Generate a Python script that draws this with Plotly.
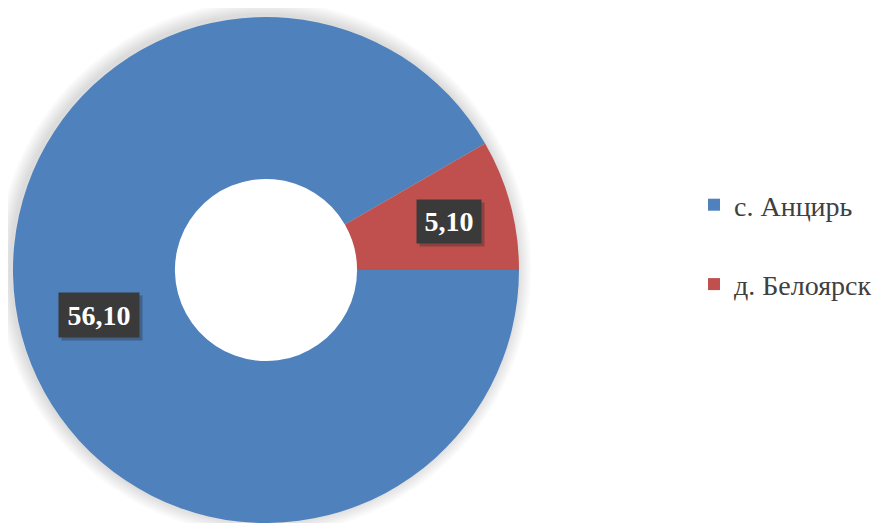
import math
import plotly.graph_objects as go

labels = ["с. Анцирь", "д. Белоярск"]
values = [56.10, 5.10]
value_text = ["56,10", "5,10"]
colors = ["#4F81BD", "#C0504D"]

SERIF = "Liberation Serif, Times New Roman, DejaVu Serif, serif"

# page has an 8px body margin; figure coordinates are page - 8
W, H = 875, 515
cx_px, cy_px, r_px = 258, 262, 253
hole = 0.36
label_r = [0.684, 0.747]
box_w = [72, 56]
box_h = [36, 35]

fig = go.Figure()
fig.add_trace(go.Pie(
    labels=labels, values=values, sort=False,
    direction="clockwise", rotation=90, hole=hole,
    marker=dict(colors=colors, line=dict(width=0)),
    textinfo="none", hoverinfo="label+value", showlegend=False,
    domain=dict(x=[(cx_px - r_px) / W, (cx_px + r_px) / W],
                y=[max(0, (H - cy_px - r_px) / H), (H - cy_px + r_px) / H]),
))

# legend entries
for i, (lab, col) in enumerate(zip(labels, colors)):
    fig.add_trace(go.Scatter(
        x=[None], y=[None], mode="markers", name=lab,
        legendgroup=f"g{i}",
        marker=dict(symbol="square", size=12, color=col),
    ))


def circle(cx, cy, rr, fill):
    return dict(
        type="circle", xref="paper", yref="paper", layer="below",
        x0=(cx - rr) / W, x1=(cx + rr) / W,
        y0=1 - (cy + rr) / H, y1=1 - (cy - rr) / H,
        fillcolor=fill, line=dict(width=0),
    )


# soft glow/shadow around the ring, hole kept white
shapes = [circle(cx_px - 2, cy_px - 2, r_px + 2 * k, "rgba(0,0,0,0.018)")
          for k in range(1, 8)]
shapes.append(circle(cx_px, cy_px, hole * r_px + 1, "white"))

# data labels placed at slice mid-angles computed from the values
total = sum(values)
start = 90.0
annotations = []
for i, v in enumerate(values):
    span = v / total * 360
    mid_clock = start + span / 2
    start += span
    a = math.radians(mid_clock)
    px = cx_px + label_r[i] * r_px * math.sin(a)
    py = cy_px - label_r[i] * r_px * math.cos(a)
    common = dict(
        x=px / W, y=1 - py / H, xref="paper", yref="paper",
        xanchor="center", yanchor="middle", showarrow=False,
        borderpad=4, width=box_w[i], height=box_h[i],
    )
    # soft shadow box (no text)
    annotations.append(dict(
        common, text=" ", xshift=3, yshift=-3,
        font=dict(family=SERIF, size=28, color="rgba(0,0,0,0)"),
        bgcolor="rgba(40,40,40,0.35)",
    ))
    annotations.append(dict(
        common, text=f"<b>{value_text[i]}</b>",
        font=dict(family=SERIF, size=28, color="white"),
        bgcolor="#3A3A3A",
    ))

fig.update_layout(
    width=W, height=H,
    margin=dict(l=0, r=0, t=0, b=0),
    paper_bgcolor="white", plot_bgcolor="white",
    xaxis=dict(visible=False), yaxis=dict(visible=False),
    showlegend=True,
    legend=dict(
        x=686 / W, y=1 - 172 / H, xanchor="left", yanchor="top",
        traceorder="grouped", tracegroupgap=40,
        font=dict(family=SERIF, size=28, color="#404040"),
        bgcolor="rgba(0,0,0,0)",
    ),
    shapes=shapes,
    annotations=annotations,
)

fig.write_html("out.html")
